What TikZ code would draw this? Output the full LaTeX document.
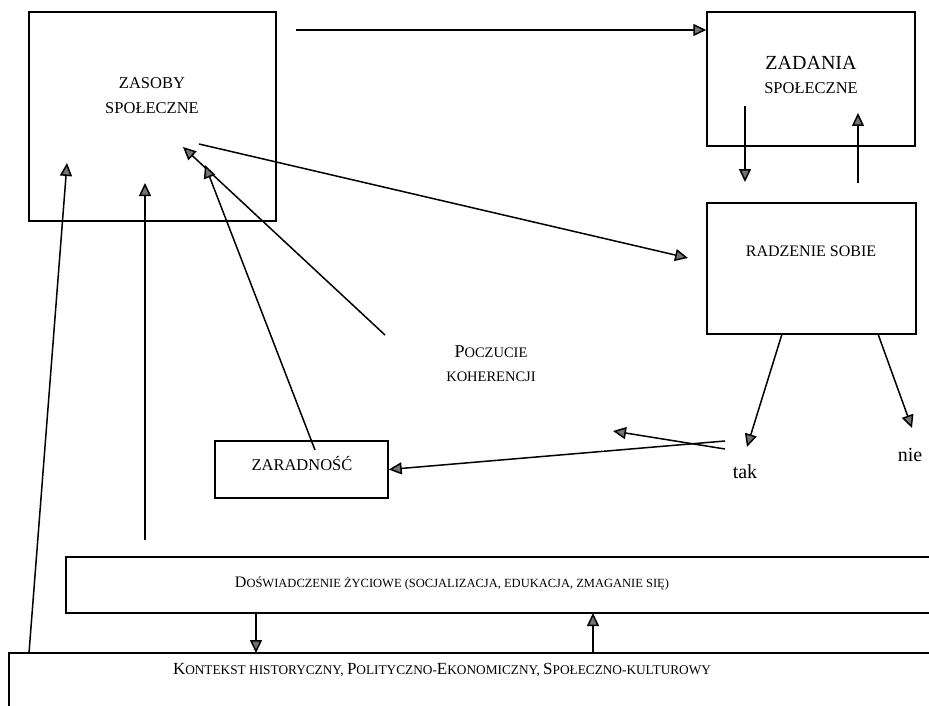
\documentclass[tikz,border=0pt]{standalone}
\usepackage{fontspec}
\setmainfont{Liberation Serif}
\usetikzlibrary{arrows.meta}
\newcommand\BL[2]{{\fontsize{#1}{#1}\selectfont #2}}
\begin{document}
\begin{tikzpicture}[x=1pt,y=-1pt,
  box/.style={draw, line width=1.5pt, inner sep=0pt},
  arr/.style={line width=1.5pt, -{Triangle[length=13pt,width=12pt,fill=black!55]}},
  lab/.style={inner sep=0pt, align=center, font=\fontsize{16.5}{18}\selectfont},
  sml/.style={inner sep=0pt, align=center, font=\fontsize{12.5}{14}\selectfont},
  word/.style={inner sep=0pt, font=\fontsize{20}{22}\selectfont}]
\useasboundingbox (0,0) rectangle (929,706);
\clip (0,0) rectangle (929,706);
% boxes
\node[box, minimum width=247pt, minimum height=209pt] (zasoby) at (152.5,116.5) {};
\node[box, minimum width=208pt, minimum height=134pt] (zadania) at (811,79) {};
\node[box, minimum width=209pt, minimum height=131pt] (radzenie) at (811.5,268.5) {};
\node[box, minimum width=173pt, minimum height=57pt] (zaradnosc) at (301.5,469.5) {};
\node[box, minimum width=894pt, minimum height=56pt] (dosw) at (513,585) {};
\node[box, minimum width=951pt, minimum height=77pt] (kontekst) at (484.5,691.5) {};
% labels
\node[lab] (zasobyA) at (152,83) {ZASOBY};
\node[lab] (zasobyB) at (152,108) {SPOŁECZNE};
\node[lab, font=\fontsize{20}{22}\selectfont] (zadaniaA) at (811,63) {ZADANIA};
\node[lab] (zadaniaB) at (811,88) {SPOŁECZNE};
\node[lab, font=\fontsize{16}{18}\selectfont] (radzenieT) at (811,251) {RADZENIE SOBIE};
\node[lab] (zaradnoscT) at (302,463) {ZARADNOŚĆ};
\node[sml, font=\fontsize{14.5}{16}\selectfont] (poczA) at (491,352) {\BL{18}{P}OCZUCIE};
\node[sml, font=\fontsize{14.5}{16}\selectfont] (poczB) at (491,377) {KOHERENCJI};
\node[sml] (doswT) at (452,583) {\BL{16}{D}OŚWIADCZENIE ŻYCIOWE (SOCJALIZACJA, EDUKACJA, ZMAGANIE SIĘ)};
\node[sml, font=\fontsize{13.3}{15}\selectfont] (kontT) at (442,670) {\BL{17}{K}ONTEKST HISTORYCZNY, \BL{17}{P}OLITYCZNO-\BL{17}{E}KONOMICZNY, \BL{17}{S}POŁECZNO-KULTUROWY};
\node[word] (tak) at (745,472) {tak};
\node[word] (nie) at (910,455) {nie};
% coordinates
\coordinate (a1) at (296,30);
\coordinate (b1) at (199,144);
\coordinate (b2) at (688,258);
\coordinate (d1) at (745,106);
\coordinate (d2) at (745,182);
\coordinate (u1) at (858,183);
\coordinate (u2) at (858,113);
\coordinate (t1) at (782,334);
\coordinate (t2) at (747,447);
\coordinate (n1) at (878,334);
\coordinate (n2) at (912,428);
\coordinate (x1) at (725,441);
\coordinate (y1) at (725,449);
\coordinate (y2) at (613,431);
\coordinate (p1) at (385,335);
\coordinate (p2) at (183,147);
\coordinate (q1) at (315,450);
\coordinate (q2) at (205,165);
\coordinate (v1) at (145,540);
\coordinate (v2) at (145,183);
\coordinate (l1) at (29,653);
\coordinate (l2) at (67,163);
\coordinate (e1) at (256,613);
\coordinate (e2) at (256,653);
\coordinate (f1) at (593,653);
\coordinate (f2) at (593,613);
% connectors
\draw[arr] (a1) -- (a1 -| zadania.west);
\draw[arr] (b1) -- (b2);
\draw[arr] (d1) -- (d2);
\draw[arr] (u1) -- (u2);
\draw[arr] (t1) -- (t2);
\draw[arr] (n1) -- (n2);
\draw[arr] (x1) -- (zaradnosc.east);
\draw[arr] (y1) -- (y2);
\draw[arr] (p1) -- (p2);
\draw[arr] (q1) -- (q2);
\draw[arr] (v1) -- (v2);
\draw[arr] (l1) -- (l2);
\draw[arr] (e1) -- (e2);
\draw[arr] (f1) -- (f2);
\end{tikzpicture}
\end{document}
